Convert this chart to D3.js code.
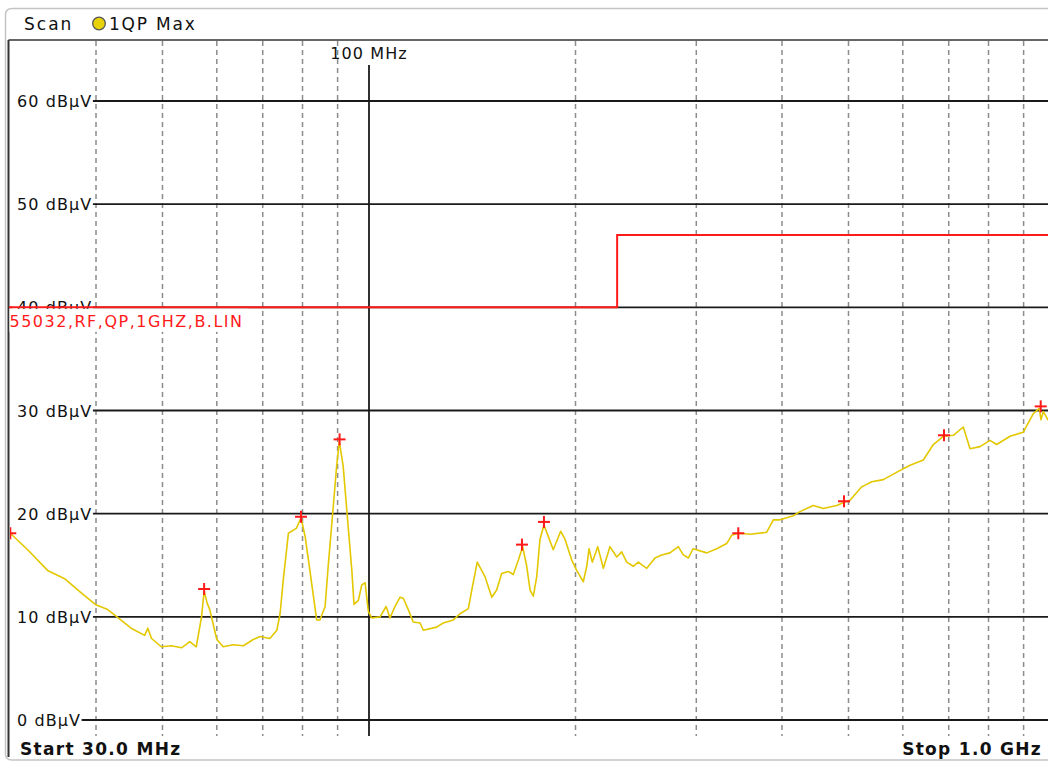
<!DOCTYPE html>
<html><head><meta charset="utf-8">
<script src="https://cdn.jsdelivr.net/npm/d3@7"></script>
<style>
html,body{margin:0;padding:0;background:#fff;overflow:hidden;}
svg{display:block;font-family:"DejaVu Sans",Verdana,sans-serif;}
</style></head><body>
<svg id="chart" width="1048" height="762"></svg>
<script>
// ---- data (frequency in MHz, level in dBµV) ----
const freqMHz = [30.0,31.8,34.0,36.0,38.1,39.9,41.6,43.1,45.0,47.1,47.6,48.2,49.8,51.5,53.3,54.8,56.0,57.0,57.5,58.1,
  58.6,60.0,61.3,63.4,65.6,67.8,69.4,71.7,73.4,74.2,75.0,76.3,78.4,79.6,80.7,82.0,83.9,84.8,86.3,87.2,
  88.7,89.7,90.5,91.7,92.8,94.4,95.1,96.5,97.6,98.7,99.8,100.9,103.8,105.9,107.3,109.1,111.0,112.2,114.1,116.0,
  118.7,120.0,125.5,128.3,132.7,135.7,139.6,141.2,143.8,147.6,151.0,153.5,156.1,159.6,162.3,165.1,167.5,169.8,171.7,173.6,
  175.6,177.5,179.9,182.5,185.6,190.3,193.1,197.5,200.8,205.3,207.7,209.3,211.6,215.5,219.6,224.5,229.7,233.5,237.5,242.8,
  246.9,254.0,261.2,267.1,274.6,282.4,287.2,292.1,296.7,310.7,321.3,332.2,337.8,345.4,359.3,380.0,388.5,397.3,415.5,424.9,
  444.3,459.5,480.6,493.0,502.6,522.7,540.6,562.0,591.0,614.7,642.8,664.7,687.4,710.9,735.1,751.8,777.5,804.0,822.3,859.9,
  899.1,929.8,948.7,954.1,961.6,976.8,1000];
const levelDb = [18.1,16.5,14.5,13.7,12.3,11.2,10.7,9.9,8.9,8.2,8.9,7.9,7.1,7.2,7.0,7.6,7.1,10.0,12.5,11.3,
  10.7,7.8,7.1,7.3,7.2,7.8,8.1,7.9,8.7,10.3,13.6,18.1,18.6,19.6,17.8,14.5,9.7,9.7,11.0,14.9,
  20.7,24.6,27.0,24.6,20.4,14.5,11.2,11.6,13.1,13.3,10.5,9.9,10.0,11.0,9.9,11.0,11.9,11.8,10.7,9.5,
  9.4,8.7,9.0,9.4,9.7,10.3,10.8,12.6,15.3,13.9,11.9,12.6,14.2,14.4,14.1,15.5,16.8,14.9,12.6,12.0,
  13.9,17.5,18.9,17.8,16.5,18.3,17.5,15.5,14.5,13.4,14.9,16.6,15.3,16.8,14.7,16.8,15.8,16.3,15.3,14.9,
  15.3,14.7,15.7,16.0,16.2,16.8,16.0,15.7,16.6,16.2,16.6,17.1,17.9,18.1,18.0,18.2,19.4,19.4,19.8,20.2,
  20.8,20.5,20.8,21.1,21.3,22.6,23.1,23.3,24.1,24.7,25.2,26.7,27.5,27.6,28.4,26.3,26.5,27.1,26.7,27.5,
  27.9,29.7,30.2,29.1,29.9,29.1,29.0];
const markerFreq = [30.0,57.5,79.6,90.6,167.1,179.9,345.4,492.5,689.0,953.2];
const markerLevel = [18.1,12.7,19.7,27.2,17.0,19.2,18.1,21.2,27.6,30.4];
const limitFreq = [30,230,230,1000];
const limitLevel = [40,40,47,47];
const yTicks = [0,10,20,30,40,50,60];
const yTickLabels = ["0 dBµV","10 dBµV","20 dBµV","30 dBµV","40 dBµV","50 dBµV","60 dBµV"];
const gridFreqs = [40,50,60,70,80,90,200,300,400,500,600,700,800,900];
const majorFreqs = [100];
const majorLabels = ["100 MHz"];
const titleLeft = "Scan";
const traceName = "1QP Max";
const limitName = "55032,RF,QP,1GHZ,B.LIN";
const startLabel = "Start 30.0 MHz";
const stopLabel = "Stop 1.0 GHz";

// ---- layout ----
const W = 1048, H = 762;
const plotLeft = 9, plotTop = 40, plotBottom = 736;
const svg = d3.select("#chart");
const x = d3.scaleLog().domain([30,1000]).range([10.3,1055]);
const y = d3.scaleLinear().domain([0,60]).range([720,101]);

const TRACE = "#e3c800", RED = "#ff1a1a", GRID = "#1a1a1a", DASH = "#8c8c8c";

// clip
svg.append("defs").append("clipPath").attr("id","plotclip")
  .append("rect").attr("x",plotLeft+1).attr("y",plotTop+1).attr("width",W-plotLeft).attr("height",plotBottom-plotTop);

// outer panel frame
svg.append("path")
  .attr("d",`M1048,8.5 H12 Q5.5,8.5 5.5,15 V754 Q5.5,760 12,760 H1048`)
  .attr("fill","none").attr("stroke","#c4c4c4").attr("stroke-width",1.5);
// plot frame (left + top)
svg.append("line").attr("x1",8.5).attr("x2",W).attr("y1",40).attr("y2",40).attr("stroke","#333").attr("stroke-width",1.5);
svg.append("line").attr("x1",8.5).attr("x2",8.5).attr("y1",40).attr("y2",757).attr("stroke","#333").attr("stroke-width",2);

// title
svg.append("text").attr("x",24).attr("y",29.5).attr("font-size",17).attr("letter-spacing",2).attr("fill","#111").text(titleLeft);
svg.append("circle").attr("cx",99).attr("cy",23.5).attr("r",6.3).attr("fill","#e8d20a").attr("stroke","#555").attr("stroke-width",1.3);
svg.append("text").attr("x",109).attr("y",29.5).attr("font-size",17).attr("letter-spacing",1.8).attr("fill","#111").text(traceName);

const g = svg.append("g");
// vertical dashed grid
g.selectAll("line.vg").data(gridFreqs).join("line").attr("class","vg")
  .attr("x1",d=>x(d)).attr("x2",d=>x(d)).attr("y1",plotTop+1).attr("y2",plotBottom)
  .attr("stroke",DASH).attr("stroke-width",1.5).attr("stroke-dasharray","5,4");
// major vertical line
g.selectAll("line.mv").data(majorFreqs).join("line").attr("class","mv")
  .attr("x1",d=>x(d)).attr("x2",d=>x(d)).attr("y1",65).attr("y2",plotBottom)
  .attr("stroke",GRID).attr("stroke-width",1.8);
g.selectAll("text.mvl").data(majorFreqs).join("text").attr("class","mvl")
  .attr("x",d=>x(d)).attr("y",58.5).attr("text-anchor","middle").attr("font-size",16).attr("letter-spacing",1.1)
  .attr("fill","#111").text((d,i)=>majorLabels[i]);

// horizontal grid with labels
yTicks.forEach((v,i)=>{
  const t = g.append("text").attr("x",17).attr("y",y(v)+6).attr("font-size",16).attr("letter-spacing",1.1)
    .attr("fill","#111").text(yTickLabels[i]);
  const w = t.node().getComputedTextLength();
  g.append("line").attr("x1",17+w+0.5).attr("x2",W).attr("y1",y(v)).attr("y2",y(v))
    .attr("stroke",GRID).attr("stroke-width",1.8);
});

// limit line
const limitPts = limitFreq.map((f,i)=>[f,limitLevel[i]]);
svg.append("path").attr("clip-path","url(#plotclip)")
  .attr("d",d3.line().x(d=>x(d[0])).y(d=>y(d[1]))(limitPts))
  .attr("fill","none").attr("stroke",RED).attr("stroke-width",2);
svg.append("line").attr("x1",plotLeft).attr("x2",x(30)+2).attr("y1",y(40)).attr("y2",y(40)).attr("stroke",RED).attr("stroke-width",2);
// limit label with white background
const lblG = svg.append("g");
const bg = lblG.append("rect").attr("fill","#fff");
const lt = lblG.append("text").attr("x",9.5).attr("y",y(40)+20).attr("font-size",16).attr("letter-spacing",1.5)
  .attr("fill",RED).text(limitName);
const lw = lt.node().getComputedTextLength();
bg.attr("x",9.5).attr("y",y(40)+1.5).attr("width",lw+4).attr("height",23);

// trace
const pts = freqMHz.map((f,i)=>[f,levelDb[i]]);
svg.append("path").attr("clip-path","url(#plotclip)")
  .attr("d",d3.line().x(d=>x(d[0])).y(d=>y(d[1]))(pts))
  .attr("fill","none").attr("stroke",TRACE).attr("stroke-width",1.6).attr("stroke-linejoin","round");

// markers
const mk = svg.append("g").attr("clip-path","url(#plotclip)");
markerFreq.forEach((f,i)=>{
  const cx = x(f), cy = y(markerLevel[i]);
  mk.append("line").attr("x1",cx-6).attr("x2",cx+6).attr("y1",cy).attr("y2",cy).attr("stroke",RED).attr("stroke-width",2);
  mk.append("line").attr("x1",cx).attr("x2",cx).attr("y1",cy-6).attr("y2",cy+6).attr("stroke",RED).attr("stroke-width",2);
});

// bottom labels
svg.append("text").attr("x",20).attr("y",755).attr("font-size",17).attr("font-weight","bold").attr("letter-spacing",1.3)
  .attr("fill","#111").text(startLabel);
svg.append("text").attr("x",1042).attr("y",755).attr("text-anchor","end").attr("font-size",17).attr("font-weight","bold").attr("letter-spacing",1.3)
  .attr("fill","#111").text(stopLabel);
</script>
</body></html>
